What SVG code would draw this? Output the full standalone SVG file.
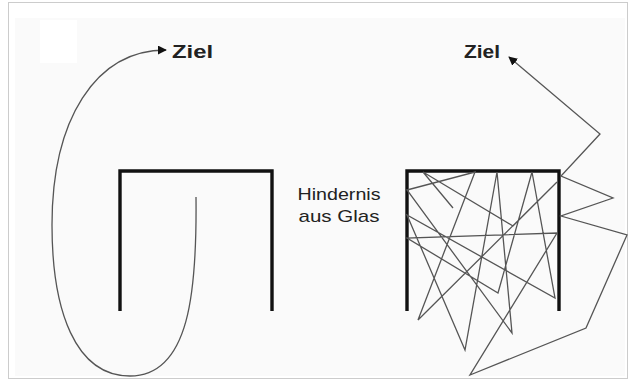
<svg xmlns="http://www.w3.org/2000/svg" width="630" height="383" viewBox="0 0 630 383">
<defs>
<style>
.wall{fill:none;stroke:#111;stroke-width:3.4;stroke-linejoin:miter}
.path{fill:none;stroke:#555;stroke-width:1.3;stroke-linejoin:miter}
.lbl{font-family:"Liberation Sans",Arial,sans-serif;fill:#222}
.bold{font-weight:bold;font-size:18px}
.reg{font-size:17px}
</style>
<marker id="ah" viewBox="0 0 10 10" refX="9" refY="5" markerWidth="9" markerHeight="9" markerUnits="userSpaceOnUse" orient="auto">
<path d="M0,0 L10,5 L0,10 Z" fill="#111"/>
</marker>
</defs>
<rect x="0" y="0" width="630" height="383" fill="#fff"/>
<rect x="15" y="18" width="610" height="358" fill="#fafafa"/>
<rect x="40" y="20" width="37" height="43" fill="#fff"/>
<rect x="8.5" y="2.5" width="619" height="376" fill="none" stroke="#ccc" stroke-width="1"/>

<g id="obstacle-left">
<path class="wall" d="M120,311 V171 H272 V311"/>
</g>
<g id="obstacle-right">
<path class="wall" d="M407,311 V171 H559 V311"/>
</g>
<g id="label-glass">
<text class="lbl reg" x="339" y="200" text-anchor="middle" textLength="83" lengthAdjust="spacingAndGlyphs">Hindernis</text>
<text class="lbl reg" x="339" y="222" text-anchor="middle" textLength="81" lengthAdjust="spacingAndGlyphs">aus Glas</text>
</g>
<g id="goal-left">
<text class="lbl bold" x="172" y="58" textLength="41" lengthAdjust="spacingAndGlyphs">Ziel</text>
</g>
<g id="goal-right">
<text class="lbl bold" x="464" y="58" textLength="36" lengthAdjust="spacingAndGlyphs">Ziel</text>
</g>

<g id="connectors">
<path class="path" d="M196,197 C197,290 190,376 130,376 C75,376 52,310 52,225 C52,120 95,50 166,50" marker-end="url(#ah)"/>
<path class="path" d="M453,208 L423,172 L513,226 L557,182 L418,320 L475,172 L407,190 L512,333 L497,172 L465,350 L407,215 L555,298 L532,172 L498,293 L407,238 L557,233 L470,375 L586,328 L627,235 L561,216 L613,198 L561,176 L600,134 L509,57" marker-end="url(#ah)"/>
</g>
</svg>
